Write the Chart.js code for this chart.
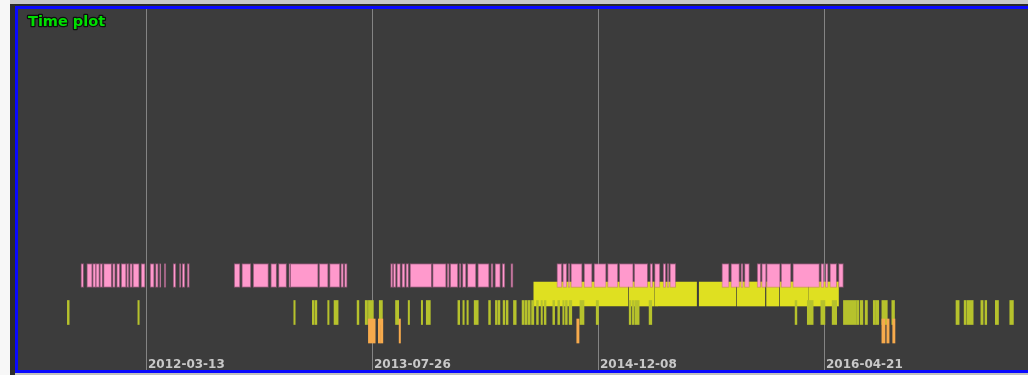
<!DOCTYPE html>
<html>
<head>
<meta charset="utf-8">
<title>Time plot</title>
<script src="https://cdn.jsdelivr.net/npm/chart.js@4/dist/chart.umd.min.js"></script>
<style>
  html, body { margin: 0; padding: 0; }
  body { width: 1028px; height: 375px; overflow: hidden; position: relative; background: #f7f7f7; }
  .strip-top { position: absolute; left: 10px; top: 0; width: 1018px; height: 4px; background: #c8c8c8; }
  .frame { position: absolute; left: 10px; top: 4px; width: 1018px; height: 371px; background: #2b2b2b; }
  .strip-bottom { position: absolute; left: 15px; top: 373px; width: 1013px; height: 2px; background: #c0c0c0; }
  .box { position: absolute; left: 15px; top: 6px; width: 1020px; height: 361px;
         border: 3px solid #0a0aff; background: #3c3c3c; }
  canvas { position: absolute; left: 0; top: 0; }
</style>
</head>
<body>
<div class="strip-top"></div>
<div class="frame"></div>
<div class="strip-bottom"></div>
<div class="box"><canvas id="plot" width="1010" height="361"></canvas></div>
<script>
// Day numbers are counted from 2012-01-01.
const tickDates = ['2012-03-13', '2013-07-26', '2014-12-08', '2016-04-21'];

// Track levels (bottom to top)
const trackLevels = { orange: 0, olive: 1, yellow: 2, pink: 3 };

const pinkSpans = [
  [-72,-66],[-59,-47],[-46,-39],[-39,-31],[-30,-24],[-22,-4],[-2,4],[7,14],[17,28],[29,34],
  [36,42],[43,57],[61,70],[81,90],[93,99],[102,105],[112,116],[132,138],[146,149],[152,158],[163,168],
  [267,280],[284,304],[309,343],[348,361],[365,383],[388,391],[391,453],[455,475],[478,501],[503,509],[511,517],
  [613,618],[619,625],[627,635],[638,645],[647,653],[656,704],[706,736],[738,743],[745,762],[765,769],
  [772,780],[783,802],[806,831],[835,840],[844,856],[860,866],[879,884],
  [981,992],[994,1003],[1006,1010],[1012,1037],[1041,1059],[1063,1090],[1093,1116],[1119,1150],
  [1152,1182],[1187,1193],[1197,1209],[1216,1222],[1225,1229],[1231,1244],
  [1346,1362],[1366,1385],[1388,1393],[1396,1407],[1424,1432],[1434,1444],[1445,1475],[1477,1499],
  [1503,1562],[1565,1572],[1575,1581],[1585,1600],[1604,1615]
];

const yellowSpans = [
  [930,1138],[1141,1196],[1198,1204],[1205,1290],[1296,1377],[1380,1441],[1445,1472],[1475,1536],[1538,1604]
];

const oliveSpans = [
  [-102,-98],[54,57],[399,402],[440,444],[446,450],[474,477],[488,492],[493,497],[539,543],[557,562],
  [564,575],[588,595],[624,631],[652,655],[681,684],[692,701],[762,766],[773,776],[782,785],[798,807],
  [830,834],[845,849],[851,855],[862,866],[869,873],[885,891],[904,908],[910,915],[917,922],[925,930],
  [936,940],[946,949],[953,957],[972,976],[983,987],[994,997],[1000,1004],[1008,1014],[1032,1041],
  [1068,1073],[1141,1145],[1148,1152],[1154,1163],[1185,1191],[1508,1512],[1535,1548],[1565,1574],
  [1590,1600],[1615,1643],[1644,1649],[1652,1658],[1663,1668],[1681,1686],[1687,1693],[1700,1712],
  [1722,1728],[1864,1871],[1882,1886],[1888,1902],[1919,1924],[1928,1932],[1951,1958],[1983,1991]
];

const orangeSpans = [
  [564,579],[586,591],[592,596],[632,635],[1025,1030],[1700,1707],[1711,1716],[1724,1729]
];

const DAY0 = Date.UTC(2012, 0, 1);
const toDay = s => (Date.parse(s + 'T00:00:00Z') - DAY0) / 86400000;
const tickDays = tickDates.map(toDay);
const dayLabel = d => new Date(DAY0 + d * 86400000).toISOString().slice(0, 10);

const toPoints = (spans, level) => spans.map(([a, b]) => ({ x: [a, b], y: level }));

// Title drawn in the upper-left corner of the plot area
const cornerTitle = {
  id: 'cornerTitle',
  afterDraw(chart) {
    const ctx = chart.ctx;
    ctx.save();
    ctx.font = 'bold 14.5px "DejaVu Sans"';
    ctx.textBaseline = 'alphabetic';
    ctx.textAlign = 'left';
    ctx.lineJoin = 'round';
    ctx.lineWidth = 2.5;
    ctx.strokeStyle = 'rgba(0,0,0,0.75)';
    ctx.strokeText('Time plot', 10, 17);
    ctx.fillStyle = '#00e000';
    ctx.fillText('Time plot', 10, 17);
    ctx.restore();
  }
};

// Date labels placed just right of each grid line, along the bottom edge
const insideTickLabels = {
  id: 'insideTickLabels',
  afterDraw(chart) {
    const scale = chart.scales.x;
    const ctx = chart.ctx;
    ctx.save();
    ctx.font = 'bold 12px "DejaVu Sans"';
    ctx.fillStyle = '#c8c8c8';
    ctx.textAlign = 'left';
    ctx.textBaseline = 'alphabetic';
    scale.ticks.forEach(t => {
      const px = scale.getPixelForValue(t.value);
      ctx.fillText(dayLabel(t.value), px + 2, chart.chartArea.bottom - 2.5);
    });
    ctx.restore();
  }
};

const common = { grouped: false, barThickness: 24, borderSkipped: false };

new Chart(document.getElementById('plot'), {
  type: 'bar',
  data: {
    datasets: [
      Object.assign({ label: 'orange', data: toPoints(orangeSpans, trackLevels.orange),
        backgroundColor: '#f7aa4c', borderWidth: 0, order: 0 }, common),
      Object.assign({ label: 'olive', data: toPoints(oliveSpans, trackLevels.olive),
        backgroundColor: '#b6c22c', borderWidth: 0, order: 1 }, common),
      Object.assign({ label: 'pink', data: toPoints(pinkSpans, trackLevels.pink),
        backgroundColor: '#ff99cc', borderColor: 'rgba(190,100,150,0.6)', borderWidth: 1, order: 2 }, common),
      Object.assign({ label: 'yellow', data: toPoints(yellowSpans, trackLevels.yellow),
        backgroundColor: '#dfe021', borderWidth: 0, order: 3 }, common)
    ]
  },
  options: {
    indexAxis: 'y',
    responsive: false,
    animation: false,
    devicePixelRatio: 1,
    layout: { padding: 0 },
    plugins: { legend: { display: false }, tooltip: { enabled: false } },
    scales: {
      x: {
        type: 'linear',
        min: -211.2,
        max: 2023.3,
        z: 1,
        afterBuildTicks: s => { s.ticks = tickDays.map(v => ({ value: v })); },
        afterFit: s => { s.height = 0; },
        ticks: { display: false },
        border: { display: false },
        grid: { color: 'rgba(150,150,150,0.8)', lineWidth: 1, drawTicks: false }
      },
      y: {
        type: 'linear',
        display: false,
        offset: false,
        min: -2.108,
        max: 17.405
      }
    }
  },
  plugins: [cornerTitle, insideTickLabels]
});
</script>
</body>
</html>
